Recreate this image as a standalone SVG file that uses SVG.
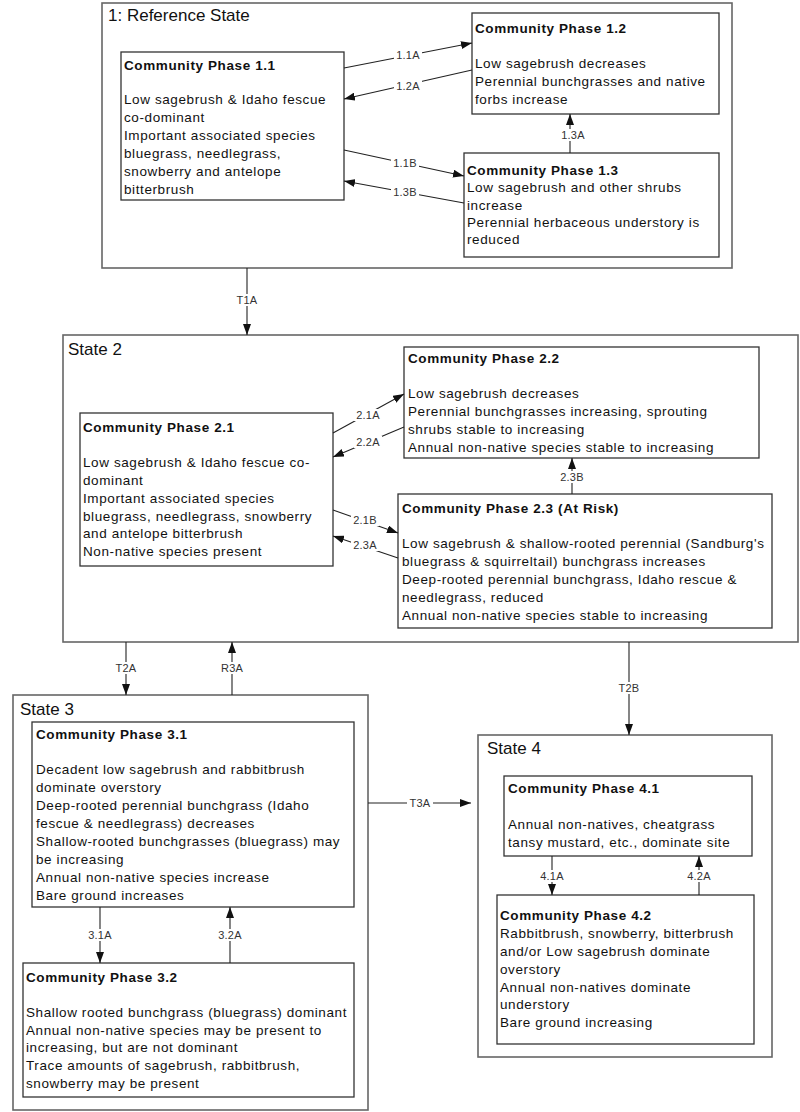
<svg xmlns="http://www.w3.org/2000/svg" width="800" height="1112" viewBox="0 0 800 1112">
<defs>
<marker id="ah" markerUnits="userSpaceOnUse" markerWidth="11" markerHeight="8" refX="11" refY="4" orient="auto">
<path d="M0,0 L11,4 L0,8 z" fill="#111"/>
</marker>
<style>
.state{fill:#fff;stroke:#666;stroke-width:1.6}
.box{fill:#fff;stroke:#333;stroke-width:1.3}
.st{font-family:"Liberation Sans",Arial,sans-serif;font-size:17px;fill:#111}
.t{font-family:"Liberation Sans",Arial,sans-serif;font-size:13.5px;letter-spacing:0.6px;fill:#111}
.b{font-weight:bold}
.c{fill:none;stroke:#222;stroke-width:1.1;marker-end:url(#ah)}
.bg{fill:#fff}
.lb{font-family:"Liberation Sans",Arial,sans-serif;font-size:11px;letter-spacing:0.2px;fill:#333;text-anchor:middle}
</style>
</defs>
<rect width="800" height="1112" fill="#fff"/>

<g id="state1">
<rect class="state" x="102" y="3" width="630" height="265"/>
<text class="st" x="108" y="21">1: Reference State</text>
</g>
<g id="state2">
<rect class="state" x="63" y="335" width="735" height="307"/>
<text class="st" x="68" y="355">State 2</text>
</g>
<g id="state3">
<rect class="state" x="13" y="695" width="355" height="415"/>
<text class="st" x="20" y="715">State 3</text>
</g>
<g id="state4">
<rect class="state" x="478" y="735" width="294" height="322"/>
<text class="st" x="487" y="754">State 4</text>
</g>

<g id="cp11">
<rect class="box" x="121" y="52" width="223" height="148"/>
<text class="t" x="124" y="70"><tspan class="b">Community Phase 1.1</tspan><tspan x="124" y="104">Low sagebrush &amp; Idaho fescue</tspan><tspan x="124" y="122">co-dominant</tspan><tspan x="124" y="140">Important associated species</tspan><tspan x="124" y="158">bluegrass, needlegrass,</tspan><tspan x="124" y="175.5">snowberry and antelope</tspan><tspan x="124" y="193.5">bitterbrush</tspan></text>
</g>
<g id="cp12">
<rect class="box" x="472" y="13" width="247" height="101"/>
<text class="t" x="475" y="33"><tspan class="b">Community Phase 1.2</tspan><tspan x="475" y="67.5">Low sagebrush decreases</tspan><tspan x="475" y="85.5">Perennial bunchgrasses and native</tspan><tspan x="475" y="103.5">forbs increase</tspan></text>
</g>
<g id="cp13">
<rect class="box" x="464" y="153" width="255" height="104"/>
<text class="t" x="467" y="175"><tspan class="b">Community Phase 1.3</tspan><tspan x="467" y="191.5">Low sagebrush and other shrubs</tspan><tspan x="467" y="209.5">increase</tspan><tspan x="467" y="226.5">Perennial herbaceous understory is</tspan><tspan x="467" y="244">reduced</tspan></text>
</g>

<g id="cp21">
<rect class="box" x="80" y="413" width="253" height="153"/>
<text class="t" x="83" y="432"><tspan class="b">Community Phase 2.1</tspan><tspan x="83" y="466.5">Low sagebrush &amp; Idaho fescue co-</tspan><tspan x="83" y="484.5">dominant</tspan><tspan x="83" y="502.5">Important associated species</tspan><tspan x="83" y="520.5">bluegrass, needlegrass, snowberry</tspan><tspan x="83" y="538">and antelope bitterbrush</tspan><tspan x="83" y="556">Non-native species present</tspan></text>
</g>
<g id="cp22">
<rect class="box" x="404" y="347" width="355" height="111"/>
<text class="t" x="408" y="363"><tspan class="b">Community Phase 2.2</tspan><tspan x="408" y="397.5">Low sagebrush decreases</tspan><tspan x="408" y="415.5">Perennial bunchgrasses increasing, sprouting</tspan><tspan x="408" y="433.5">shrubs stable to increasing</tspan><tspan x="408" y="451.5">Annual non-native species stable to increasing</tspan></text>
</g>
<g id="cp23">
<rect class="box" x="398" y="494" width="374" height="134"/>
<text class="t" x="402" y="513"><tspan class="b">Community Phase 2.3 (At Risk)</tspan><tspan x="402" y="547.5">Low sagebrush &amp; shallow-rooted perennial (Sandburg's</tspan><tspan x="402" y="566">bluegrass &amp; squirreltail) bunchgrass increases</tspan><tspan x="402" y="583.5">Deep-rooted perennial bunchgrass, Idaho rescue &amp;</tspan><tspan x="402" y="601.5">needlegrass, reduced</tspan><tspan x="402" y="619.5">Annual non-native species stable to increasing</tspan></text>
</g>

<g id="cp31">
<rect class="box" x="32" y="722" width="322" height="185"/>
<text class="t" x="36" y="739"><tspan class="b">Community Phase 3.1</tspan><tspan x="36" y="773.5">Decadent low sagebrush and rabbitbrush</tspan><tspan x="36" y="791.5">dominate overstory</tspan><tspan x="36" y="809.5">Deep-rooted perennial bunchgrass (Idaho</tspan><tspan x="36" y="827.5">fescue &amp; needlegrass) decreases</tspan><tspan x="36" y="845.5">Shallow-rooted bunchgrasses (bluegrass) may</tspan><tspan x="36" y="863.5">be increasing</tspan><tspan x="36" y="881.5">Annual non-native species increase</tspan><tspan x="36" y="899.5">Bare ground increases</tspan></text>
</g>
<g id="cp32">
<rect class="box" x="23" y="963" width="331" height="134"/>
<text class="t" x="26" y="982"><tspan class="b">Community Phase 3.2</tspan><tspan x="26" y="1016.5">Shallow rooted bunchgrass (bluegrass) dominant</tspan><tspan x="26" y="1034.5">Annual non-native species may be present to</tspan><tspan x="26" y="1052">increasing, but are not dominant</tspan><tspan x="26" y="1070">Trace amounts of sagebrush, rabbitbrush,</tspan><tspan x="26" y="1088">snowberry may be present</tspan></text>
</g>

<g id="cp41">
<rect class="box" x="504" y="776" width="248" height="80"/>
<text class="t" x="508" y="793"><tspan class="b">Community Phase 4.1</tspan><tspan x="508" y="828.5">Annual non-natives, cheatgrass</tspan><tspan x="508" y="846.5">tansy mustard, etc., dominate site</tspan></text>
</g>
<g id="cp42">
<rect class="box" x="497" y="895" width="257" height="149"/>
<text class="t" x="500" y="920"><tspan class="b">Community Phase 4.2</tspan><tspan x="500" y="937.5">Rabbitbrush, snowberry, bitterbrush</tspan><tspan x="500" y="955.5">and/or Low sagebrush dominate</tspan><tspan x="500" y="973.5">overstory</tspan><tspan x="500" y="991.5">Annual non-natives dominate</tspan><tspan x="500" y="1009">understory</tspan><tspan x="500" y="1027">Bare ground increasing</tspan></text>
</g>

<g id="connectors">
<line class="c" x1="344" y1="68" x2="472" y2="43"/>
<line class="c" x1="472" y1="70" x2="344" y2="99"/>
<line class="c" x1="344" y1="150" x2="464" y2="176"/>
<line class="c" x1="464" y1="203" x2="344" y2="181"/>
<line class="c" x1="570" y1="153" x2="570" y2="114"/>
<line class="c" x1="247" y1="268" x2="247" y2="335"/>
<line class="c" x1="333" y1="433" x2="404" y2="394"/>
<line class="c" x1="404" y1="427" x2="333" y2="457"/>
<line class="c" x1="333" y1="510" x2="398" y2="533"/>
<line class="c" x1="398" y1="558" x2="333" y2="536"/>
<line class="c" x1="572" y1="494" x2="572" y2="458"/>
<line class="c" x1="126" y1="642" x2="126" y2="695"/>
<line class="c" x1="232" y1="695" x2="232" y2="642"/>
<line class="c" x1="629" y1="642" x2="629" y2="735"/>
<line class="c" x1="368" y1="803" x2="471" y2="803"/>
<line class="c" x1="100" y1="907" x2="100" y2="963"/>
<line class="c" x1="230" y1="963" x2="230" y2="907"/>
<line class="c" x1="552" y1="856" x2="552" y2="895"/>
<line class="c" x1="699" y1="895" x2="699" y2="856"/>
<rect class="bg" x="394" y="49" width="28" height="12"/>
<rect class="bg" x="394" y="80" width="28" height="12"/>
<rect class="bg" x="391" y="157" width="28" height="12"/>
<rect class="bg" x="391" y="186" width="28" height="12"/>
<rect class="bg" x="559" y="129" width="28" height="12"/>
<rect class="bg" x="234" y="294" width="26" height="12"/>
<rect class="bg" x="354" y="409" width="28" height="12"/>
<rect class="bg" x="354" y="436" width="28" height="12"/>
<rect class="bg" x="351" y="514" width="28" height="12"/>
<rect class="bg" x="351" y="539" width="28" height="12"/>
<rect class="bg" x="558" y="471" width="28" height="12"/>
<rect class="bg" x="113" y="662" width="26" height="12"/>
<rect class="bg" x="219" y="662" width="26" height="12"/>
<rect class="bg" x="616" y="682" width="26" height="12"/>
<rect class="bg" x="407" y="797" width="26" height="12"/>
<rect class="bg" x="86" y="929" width="28" height="12"/>
<rect class="bg" x="216" y="929" width="28" height="12"/>
<rect class="bg" x="538" y="870" width="28" height="12"/>
<rect class="bg" x="685" y="870" width="28" height="12"/>
<text class="lb" x="408" y="59">1.1A</text>
<text class="lb" x="408" y="90">1.2A</text>
<text class="lb" x="405" y="167">1.1B</text>
<text class="lb" x="405" y="196">1.3B</text>
<text class="lb" x="573" y="139">1.3A</text>
<text class="lb" x="247" y="304">T1A</text>
<text class="lb" x="368" y="419">2.1A</text>
<text class="lb" x="368" y="446">2.2A</text>
<text class="lb" x="365" y="524">2.1B</text>
<text class="lb" x="365" y="549">2.3A</text>
<text class="lb" x="572" y="481">2.3B</text>
<text class="lb" x="126" y="672">T2A</text>
<text class="lb" x="232" y="672">R3A</text>
<text class="lb" x="629" y="692">T2B</text>
<text class="lb" x="420" y="807">T3A</text>
<text class="lb" x="100" y="939">3.1A</text>
<text class="lb" x="230" y="939">3.2A</text>
<text class="lb" x="552" y="880">4.1A</text>
<text class="lb" x="699" y="880">4.2A</text>
</g>
</svg>
